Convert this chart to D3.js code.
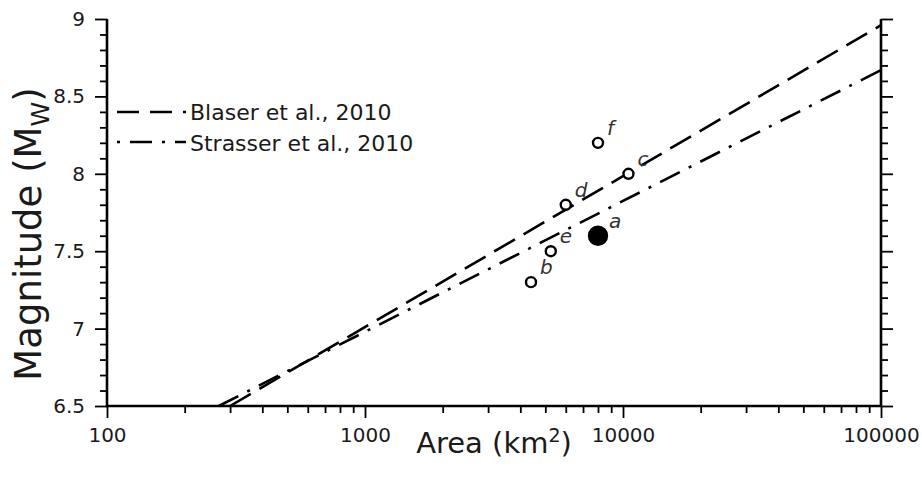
<!DOCTYPE html>
<html lang="en">
<head>
<meta charset="utf-8">
<title>Magnitude vs Area</title>
<style>
body { margin: 0; background: #fff; }
text { font-family: "DejaVu Sans", sans-serif; fill: #1a1a1a; }
.axis .domain { display: none; }
.axis line { stroke: #000; stroke-width: 1.8px; }
.frame { stroke: #000; stroke-width: 2.6px; fill: none; }
.fit { fill: none; stroke: #000; stroke-width: 2.6px; }
</style>
</head>
<body>
<div id="chart"></div>
<script src="https://d3js.org/d3.v7.min.js"></script>
<script>

// rupture area (km2) vs moment magnitude for events a-f
const labels = ["a", "b", "c", "d", "e", "f"];
const areas = [8000, 4400, 10500, 6000, 5250, 8000];
const mags = [7.6, 7.3, 8.0, 7.8, 7.5, 8.2];
const source = ["this study", "other", "other", "other", "other", "other"];

// scaling relations, end points
const blaserLine = [[300, 6.5], [100000, 8.96]];
const strasserLine = [[271, 6.5], [100000, 8.67]];
const legendNames = ["Blaser et al., 2010", "Strasser et al., 2010"];

const xMajor = [100, 1000, 10000, 100000];
const yMajor = [6.5, 7, 7.5, 8, 8.5, 9];

const width = 922,
    height = 487,
    margin = { top: 19, right: 41, bottom: 81, left: 107 };

const svg = d3.select("#chart").append("svg")
    .attr("width", width)
    .attr("height", height);

const x = d3.scaleLog()
    .domain([100, 100000])
    .range([margin.left, width - margin.right]);

const y = d3.scaleLinear()
    .domain([6.5, 9])
    .range([height - margin.bottom, margin.top]);

// minor ticks
const xMinor = [];
xMajor.slice(0, -1).forEach(function(d) {
  for (let k = 2; k < 10; k++) xMinor.push(d * k);
});
const yMinor = d3.range(65, 91).map(function(d) { return d / 10; })
    .filter(function(d) { return yMajor.indexOf(d) < 0; });

const g = svg.append("g");

function addAxis(axis, tx, ty) {
  g.append("g")
      .attr("class", "axis")
      .attr("transform", "translate(" + tx + "," + ty + ")")
      .call(axis);
}

const x0 = margin.left, x1 = width - margin.right;
const y0 = height - margin.bottom, y1 = margin.top;

// bottom
addAxis(d3.axisBottom(x).tickValues(xMinor).tickSize(7).tickFormat(""), 0, y0);
addAxis(d3.axisBottom(x).tickValues(xMajor).tickSize(12).tickPadding(10)
    .tickFormat(d3.format("d")), 0, y0);
// left
addAxis(d3.axisLeft(y).tickValues(yMinor).tickSize(7).tickFormat(""), x0, 0);
addAxis(d3.axisLeft(y).tickValues(yMajor).tickSize(12).tickPadding(10)
    .tickFormat(d3.format("")), x0, 0);
// right
addAxis(d3.axisRight(y).tickValues(yMinor).tickSize(7).tickFormat(""), x1, 0);
addAxis(d3.axisRight(y).tickValues(yMajor).tickSize(12).tickFormat(""), x1, 0);

g.selectAll(".axis text").style("font-size", "20px");

// frame: left, bottom, right
g.append("path")
    .attr("class", "frame")
    .attr("d", "M" + x0 + "," + y1 + "V" + y0 + "H" + x1 + "V" + y1);

// fit lines
const line = d3.line()
    .x(function(d) { return x(d[0]); })
    .y(function(d) { return y(d[1]); });

g.append("path")
    .datum(blaserLine)
    .attr("class", "fit")
    .attr("stroke-dasharray", "24,10")
    .attr("d", line);

g.append("path")
    .datum(strasserLine)
    .attr("class", "fit")
    .attr("stroke-dasharray", "22,10,3,10")
    .attr("d", line);

// legend
const legend = g.append("g");
legend.append("line")
    .attr("class", "fit")
    .attr("x1", 117).attr("x2", 186).attr("y1", 112).attr("y2", 112)
    .attr("stroke-dasharray", "22,11");
legend.append("line")
    .attr("class", "fit")
    .attr("x1", 117).attr("x2", 186).attr("y1", 142).attr("y2", 142)
    .attr("stroke-dasharray", "22,10,3,10")
    .attr("stroke-dashoffset", 32);
legend.selectAll("text")
    .data(legendNames)
    .enter().append("text")
    .attr("x", 190)
    .attr("y", function(d, i) { return 120 + i * 31; })
    .style("font-size", "22px")
    .text(function(d) { return d; });

// events
const pts = labels.map(function(d, i) {
  return { label: d, area: areas[i], mw: mags[i], source: source[i] };
});

const ev = g.append("g").selectAll("g")
    .data(pts)
    .enter().append("g")
    .attr("transform", function(d) {
      return "translate(" + x(d.area) + "," + y(d.mw) + ")";
    });

ev.append("circle")
    .attr("r", function(d) { return d.source === "this study" ? 9 : 5; })
    .attr("fill", function(d) { return d.source === "this study" ? "#000" : "#fff"; })
    .attr("stroke", "#000")
    .attr("stroke-width", 2.4);

ev.append("text")
    .attr("x", function(d) { return d.source === "this study" ? 11 : 9; })
    .attr("y", -8)
    .style("font-size", "20px")
    .style("font-style", "italic")
    .style("fill", "#333")
    .text(function(d) { return d.label; });

// axis titles
const xt = svg.append("text")
    .attr("x", 494)
    .attr("y", 453)
    .attr("text-anchor", "middle")
    .style("font-size", "29px");
xt.append("tspan").text("Area (km");
xt.append("tspan").attr("dy", -11).style("font-size", "19px").text("2");
xt.append("tspan").attr("dy", 11).text(")");

const yt = svg.append("text")
    .attr("transform", "translate(41,234) rotate(-90)")
    .attr("text-anchor", "middle")
    .style("font-size", "37px");
yt.append("tspan").text("Magnitude (M");
yt.append("tspan").attr("dy", 8).style("font-size", "25px").text("W");
yt.append("tspan").attr("dy", -8).text(")");

</script>
</body>
</html>
